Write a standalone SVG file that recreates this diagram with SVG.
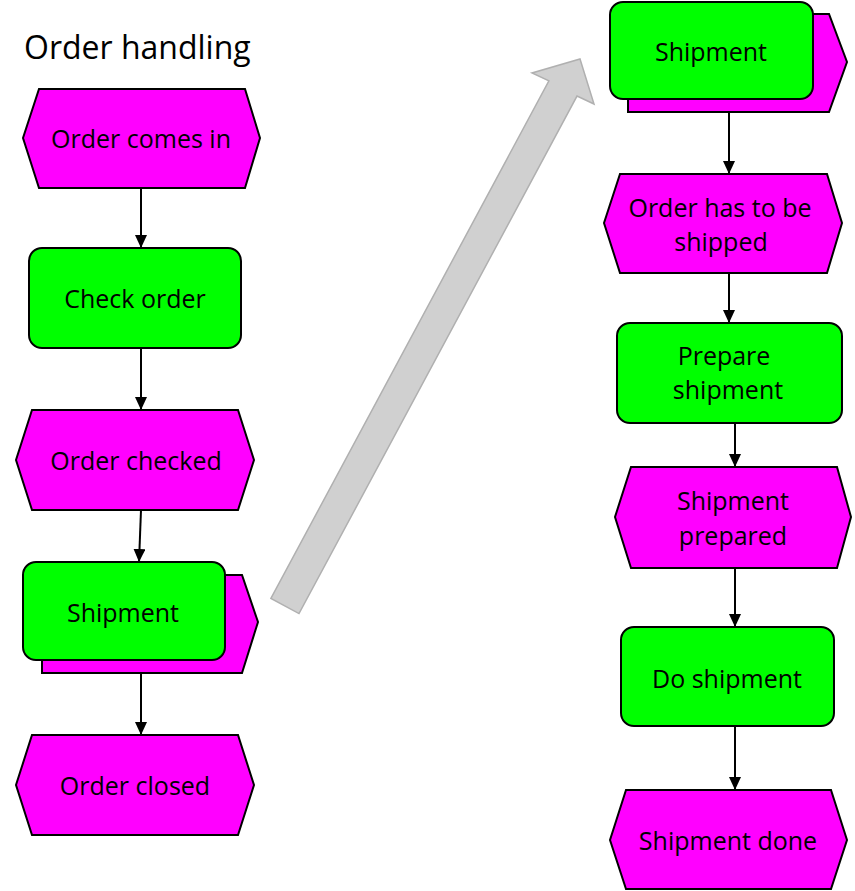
<svg xmlns="http://www.w3.org/2000/svg" width="855" height="891" viewBox="0 0 855 891">
<defs>
<style>
.ev{fill:#ff00ff;stroke:#000;stroke-width:2;stroke-linejoin:miter}
.fn{fill:#00ff00;stroke:#000;stroke-width:2}
.t{font-family:"Open Sans","Noto Sans",sans-serif;font-size:25px;fill:#000;text-anchor:middle}
.c{stroke:#000;stroke-width:2;fill:none;marker-end:url(#ah)}
</style>
<marker id="ah" viewBox="0 0 13 12" refX="13" refY="6" markerWidth="13" markerHeight="12" markerUnits="userSpaceOnUse" orient="auto">
<path d="M0,0 L13,6 L0,12 Z" fill="#000"/>
</marker>
</defs>
<rect width="855" height="891" fill="#fff"/>
<text x="24" y="59" font-family="Open Sans, Noto Sans, sans-serif" font-size="32" fill="#000">Order handling</text>

<g id="connectors">
<line class="c" x1="141" y1="188" x2="141" y2="248"/>
<line class="c" x1="141" y1="348" x2="141" y2="410"/>
<line class="c" x1="141" y1="510" x2="139" y2="562"/>
<line class="c" x1="141" y1="673" x2="141" y2="735"/>
<line class="c" x1="729" y1="112" x2="729" y2="174"/>
<line class="c" x1="729" y1="273" x2="729" y2="323"/>
<line class="c" x1="735" y1="423" x2="735" y2="467"/>
<line class="c" x1="735" y1="568" x2="735" y2="627"/>
<line class="c" x1="735" y1="726" x2="735" y2="790"/>
<path id="bigArrow" d="M270.9,598.4 L548.9,80.9 L532,73 L580,59 L594,104 L577,96.1 L299,613.6 Z" fill="#d0d0d0" stroke="#b0b0b0" stroke-width="1.5"/>
</g>

<g id="orderComesIn">
<polygon class="ev" points="39,89 245,89 260,138 245,188 39,188 23,138"/>
<text class="t" x="141" y="148">Order comes in</text>
</g>
<g id="checkOrder">
<rect class="fn" x="29" y="248" width="212" height="100" rx="13"/>
<text class="t" x="135" y="308">Check order</text>
</g>
<g id="orderChecked">
<polygon class="ev" points="32,410 238,410 254,460 238,510 32,510 16,460"/>
<text class="t" x="136" y="470">Order checked</text>
</g>
<g id="shipmentLeft">
<polygon class="ev" points="42,575 242,575 258,622 242,673 42,673"/>
<rect class="fn" x="23" y="562" width="202" height="98" rx="13"/>
<text class="t" x="123" y="622">Shipment</text>
</g>
<g id="orderClosed">
<polygon class="ev" points="32,735 238,735 254,785 238,835 32,835 16,785"/>
<text class="t" x="135" y="795">Order closed</text>
</g>

<g id="shipmentRight">
<polygon class="ev" points="628,14 829,14 847,62 829,112 628,112"/>
<rect class="fn" x="610" y="2" width="203" height="97" rx="13"/>
<text class="t" x="711" y="61">Shipment</text>
</g>
<g id="orderHasToBeShipped">
<polygon class="ev" points="620,174 827,174 842,223 827,273 620,273 604,223"/>
<text class="t" x="720" y="217">Order has to be</text>
<text class="t" x="721" y="251">shipped</text>
</g>
<g id="prepareShipment">
<rect class="fn" x="617" y="323" width="225" height="100" rx="13"/>
<text class="t" x="724" y="365">Prepare</text>
<text class="t" x="728" y="399">shipment</text>
</g>
<g id="shipmentPrepared">
<polygon class="ev" points="631,467 837,467 851,517 837,568 631,568 615,517"/>
<text class="t" x="733" y="510">Shipment</text>
<text class="t" x="733" y="545">prepared</text>
</g>
<g id="doShipment">
<rect class="fn" x="621" y="627" width="213" height="99" rx="13"/>
<text class="t" x="727" y="688">Do shipment</text>
</g>
<g id="shipmentDone">
<polygon class="ev" points="626,790 831,790 847,840 831,889 626,889 610,840"/>
<text class="t" x="728" y="850">Shipment done</text>
</g>
</svg>
